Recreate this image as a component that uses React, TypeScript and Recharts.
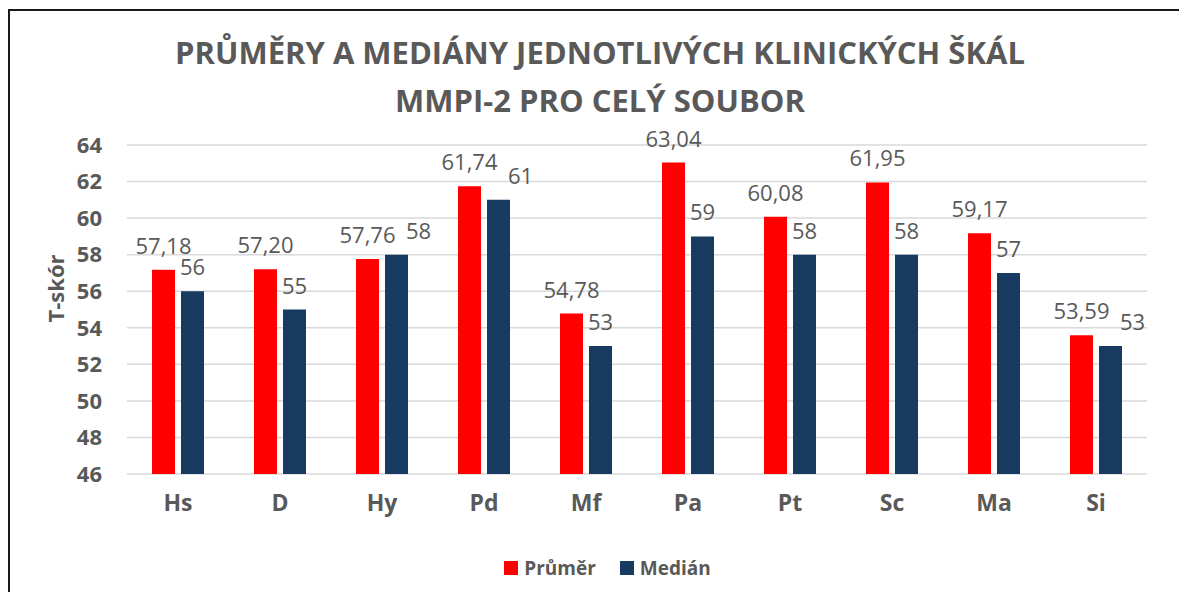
import React from 'react';
import { BarChart, Bar, XAxis, YAxis, CartesianGrid, Legend, LabelList, Label } from 'recharts';

const scales = ['Hs', 'D', 'Hy', 'Pd', 'Mf', 'Pa', 'Pt', 'Sc', 'Ma', 'Si'];
const means = [57.18, 57.2, 57.76, 61.74, 54.78, 63.04, 60.08, 61.95, 59.17, 53.59];
const medians = [56, 55, 58, 61, 53, 59, 58, 58, 57, 53];
const yTicks = [46, 48, 50, 52, 54, 56, 58, 60, 62, 64];

const RED = '#ff0000';
const NAVY = '#163a60';
const GRAY = '#595959';
const FONT = '"Open Sans", sans-serif';

const data = scales.map((s, i) => ({ scale: s, mean: means[i], median: medians[i] }));

const fmtMean = (v: number) => v.toFixed(2).replace('.', ',');

const ValueLabel = (props: any) => {
  const { x, y, width, value, index, series } = props;
  let dx = 0;
  // excel pushes the median label aside when it would run into the mean label
  if (series === 'median' && means[index] - medians[index] < 1) dx = 22;
  return (
    <text
      x={x + width / 2 + dx}
      y={y - 16}
      textAnchor="middle"
      fill={GRAY}
      fontSize={22}
      fontFamily={FONT}
    >
      {series === 'mean' ? fmtMean(value) : value}
    </text>
  );
};

const AxisTitle = (props: any) => {
  const { viewBox } = props;
  const cx = viewBox.x + 47;
  const cy = viewBox.y + viewBox.height / 2 - 21;
  return (
    <text
      x={cx}
      y={cy}
      transform={`rotate(-90, ${cx}, ${cy})`}
      textAnchor="middle"
      dominantBaseline="central"
      fill={GRAY}
      fontSize={22}
      fontWeight={700}
      fontFamily={FONT}
    >
      T-skór
    </text>
  );
};

const LegendContent = () => (
  <div style={{ display: 'flex', justifyContent: 'center', alignItems: 'center', marginLeft: 28, fontFamily: FONT }}>
    {[{ c: RED, t: 'Průměr' }, { c: NAVY, t: 'Medián' }].map((it) => (
      <div key={it.t} style={{ display: 'flex', alignItems: 'center', margin: '0 12px' }}>
        <span style={{ width: 14, height: 14, background: it.c, display: 'inline-block', marginRight: 6 }} />
        <span style={{ color: GRAY, fontSize: 19, fontWeight: 700 }}>{it.t}</span>
      </div>
    ))}
  </div>
);

export default function App() {
  return (
    <div style={{ position: 'relative', width: 1171, height: 584, overflow: 'hidden', background: '#fff' }}>
      <div
        style={{
          position: 'absolute', left: 0, top: 1, width: 1300, height: 700,
          borderTop: '2px solid #1a1a1a', borderLeft: '2px solid #1a1a1a',
        }}
      />
      <div
        style={{
          position: 'absolute', left: 0, top: 20, width: 1171, paddingLeft: 13, boxSizing: 'border-box',
          textAlign: 'center', fontFamily: FONT, fontWeight: 700, fontSize: 31, lineHeight: '48px', color: GRAY,
        }}
      >
        <div>PRŮMĚRY A MEDIÁNY JEDNOTLIVÝCH KLINICKÝCH ŠKÁL</div>
        <div>MMPI-2 PRO CELÝ SOUBOR</div>
      </div>
      <div style={{ position: 'absolute', left: 0, top: 0 }}>
        <BarChart
          width={1171}
          height={584}
          data={data}
          margin={{ top: 137, right: 32, left: 0, bottom: 78 }}
          barSize={23}
          barGap={6}
        >
          <CartesianGrid vertical={false} stroke="#d9d9d9" strokeWidth={1.5} />
          <XAxis
            dataKey="scale"
            height={40}
            axisLine={false}
            tickLine={false}
            tickSize={0}
            tickMargin={21}
            tick={{ fill: GRAY, fontSize: 23, fontWeight: 700, fontFamily: FONT }}
          />
          <YAxis
            width={119}
            domain={[46, 64]}
            ticks={yTicks}
            interval={0}
            axisLine={false}
            tickLine={false}
            tickSize={0}
            tickMargin={25}
            tick={{ fill: GRAY, fontSize: 22, fontWeight: 700, fontFamily: FONT }}
          >
            <Label content={<AxisTitle />} />
          </YAxis>
          <Legend
            verticalAlign="middle"
            wrapperStyle={{ left: 0, top: 547, width: 1171 }}
            content={<LegendContent />}
          />
          <Bar dataKey="mean" name="Průměr" fill={RED} isAnimationActive={false}>
            <LabelList dataKey="mean" content={<ValueLabel series="mean" />} />
          </Bar>
          <Bar dataKey="median" name="Medián" fill={NAVY} isAnimationActive={false}>
            <LabelList dataKey="median" content={<ValueLabel series="median" />} />
          </Bar>
        </BarChart>
      </div>
    </div>
  );
}
